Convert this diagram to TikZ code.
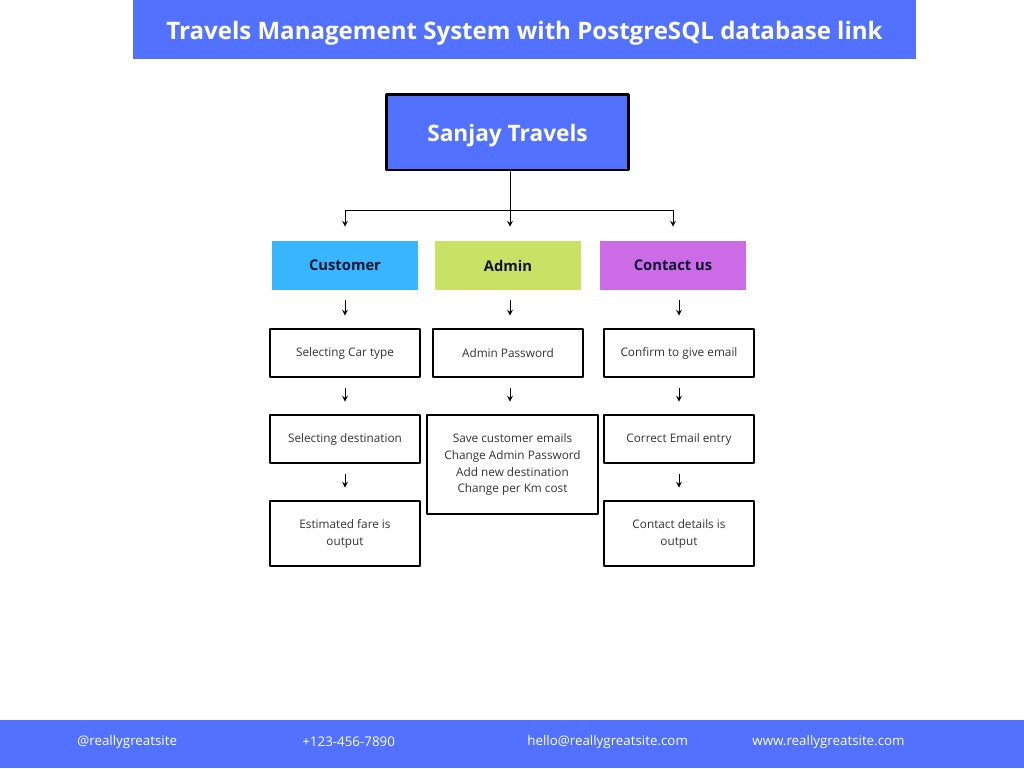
\documentclass[tikz,border=0pt]{standalone}
\usepackage{fontspec}
\setmainfont{Open Sans}
\usetikzlibrary{positioning}
\definecolor{bannerblue}{HTML}{5271FF}
\definecolor{custblue}{HTML}{38B6FF}
\definecolor{admingreen}{HTML}{C9E265}
\definecolor{contactpurple}{HTML}{CB6CE6}
\definecolor{labelink}{HTML}{0F1430}
\definecolor{boxink}{HTML}{333333}
\begin{document}
\begin{tikzpicture}[x=0.02cm,y=-0.02cm,line cap=round,line join=round,>=stealth,
	headbox/.style={fill=#1,minimum width=2.92cm,minimum height=0.98cm,inner sep=0pt,
		font=\fontsize{8.4}{10}\selectfont\bfseries,text=labelink},
	stepbox/.style={draw=black,line width=1.6pt,fill=white,minimum width=3cm,minimum height=0.96cm,
		inner sep=0pt,align=center,font=\fontsize{6.7}{9.6}\selectfont,text=boxink},
	link/.style={->,line width=0.5pt,shorten <=0.2cm,shorten >=0.24cm},
	foot/.style={anchor=west,inner sep=0pt,text=white,font=\fontsize{7.6}{9}\selectfont}]
	\useasboundingbox (0,0) rectangle (1024,768);
	% banners
	\fill[bannerblue] (133,0) rectangle (916,59);
	\fill[bannerblue] (0,720) rectangle (1024,768);
	\node[text=white,font=\fontsize{13.7}{16}\selectfont\bfseries] (title) at (524.5,33) {Travels Management System with PostgreSQL database link};
	% top box
	\node[draw=black,line width=1.7pt,fill=bannerblue,minimum width=4.86cm,minimum height=1.52cm,
		text=white,font=\fontsize{12.9}{15}\selectfont\bfseries] (travels) at (507.5,132)
		{\raisebox{0pt}[\dimexpr\height+4pt][\depth]{Sanjay Travels}};
	% first level
	\node[headbox=custblue] (customer) at (345,265.5) {Customer};
	\node[headbox=admingreen] (admin) at (508,265.5) {Admin};
	\node[headbox=contactpurple] (contact) at (673,265.5) {Contact us};
	% customer column
	\node[stepbox] (cartype) at (345,353) {Selecting Car type};
	\node[stepbox] (dest) at (345,439) {Selecting destination};
	\node[stepbox,minimum height=1.3cm] (fare) at (345,533.5) {Estimated fare is\\output};
	% admin column
	\node[stepbox] (adminpass) at (508,353) {Admin Password};
	\node[stepbox,minimum width=3.42cm,minimum height=1.98cm] (tasks) at (512.5,464.5)
		{Save customer emails\\Change Admin Password\\Add new destination\\Change per Km cost};
	% contact column
	\node[stepbox] (confirm) at (679,353) {Confirm to give email};
	\node[stepbox] (emailok) at (679,439) {Correct Email entry};
	\node[stepbox,minimum height=1.3cm] (details) at (679,533.5) {Contact details is\\output};
	% tree
	\coordinate (split) at (510,210);
	\draw[line width=0.5pt] (travels.south -| split) -- (split);
	\draw[->,line width=0.5pt,shorten >=0.28cm] (split) -| (customer.north);
	\draw[->,line width=0.5pt,shorten >=0.28cm] (split) -- (admin.north -| split);
	\draw[->,line width=0.5pt,shorten >=0.28cm] (split) -| (contact.north);
	% steps
	\draw[link] (customer) -- (cartype);
	\draw[link] (cartype) -- (dest);
	\draw[link] (dest) -- (fare);
	\draw[link] (admin.south -| split) -- (adminpass.north -| split);
	\draw[link] (adminpass.south -| split) -- (tasks.north -| split);
	\draw[link] (confirm.north |- contact.south) -- (confirm.north);
	\draw[link] (confirm) -- (emailok);
	\draw[link] (emailok) -- (details);
	% footer
	\node[foot] (handle) at (77,742) {@reallygreatsite};
	\node[foot] (phone) at (302,742) {+123-456-7890};
	\node[foot] (mail) at (527,742) {hello@reallygreatsite.com};
	\node[foot] (web) at (752,742) {www.reallygreatsite.com};
\end{tikzpicture}
\end{document}
